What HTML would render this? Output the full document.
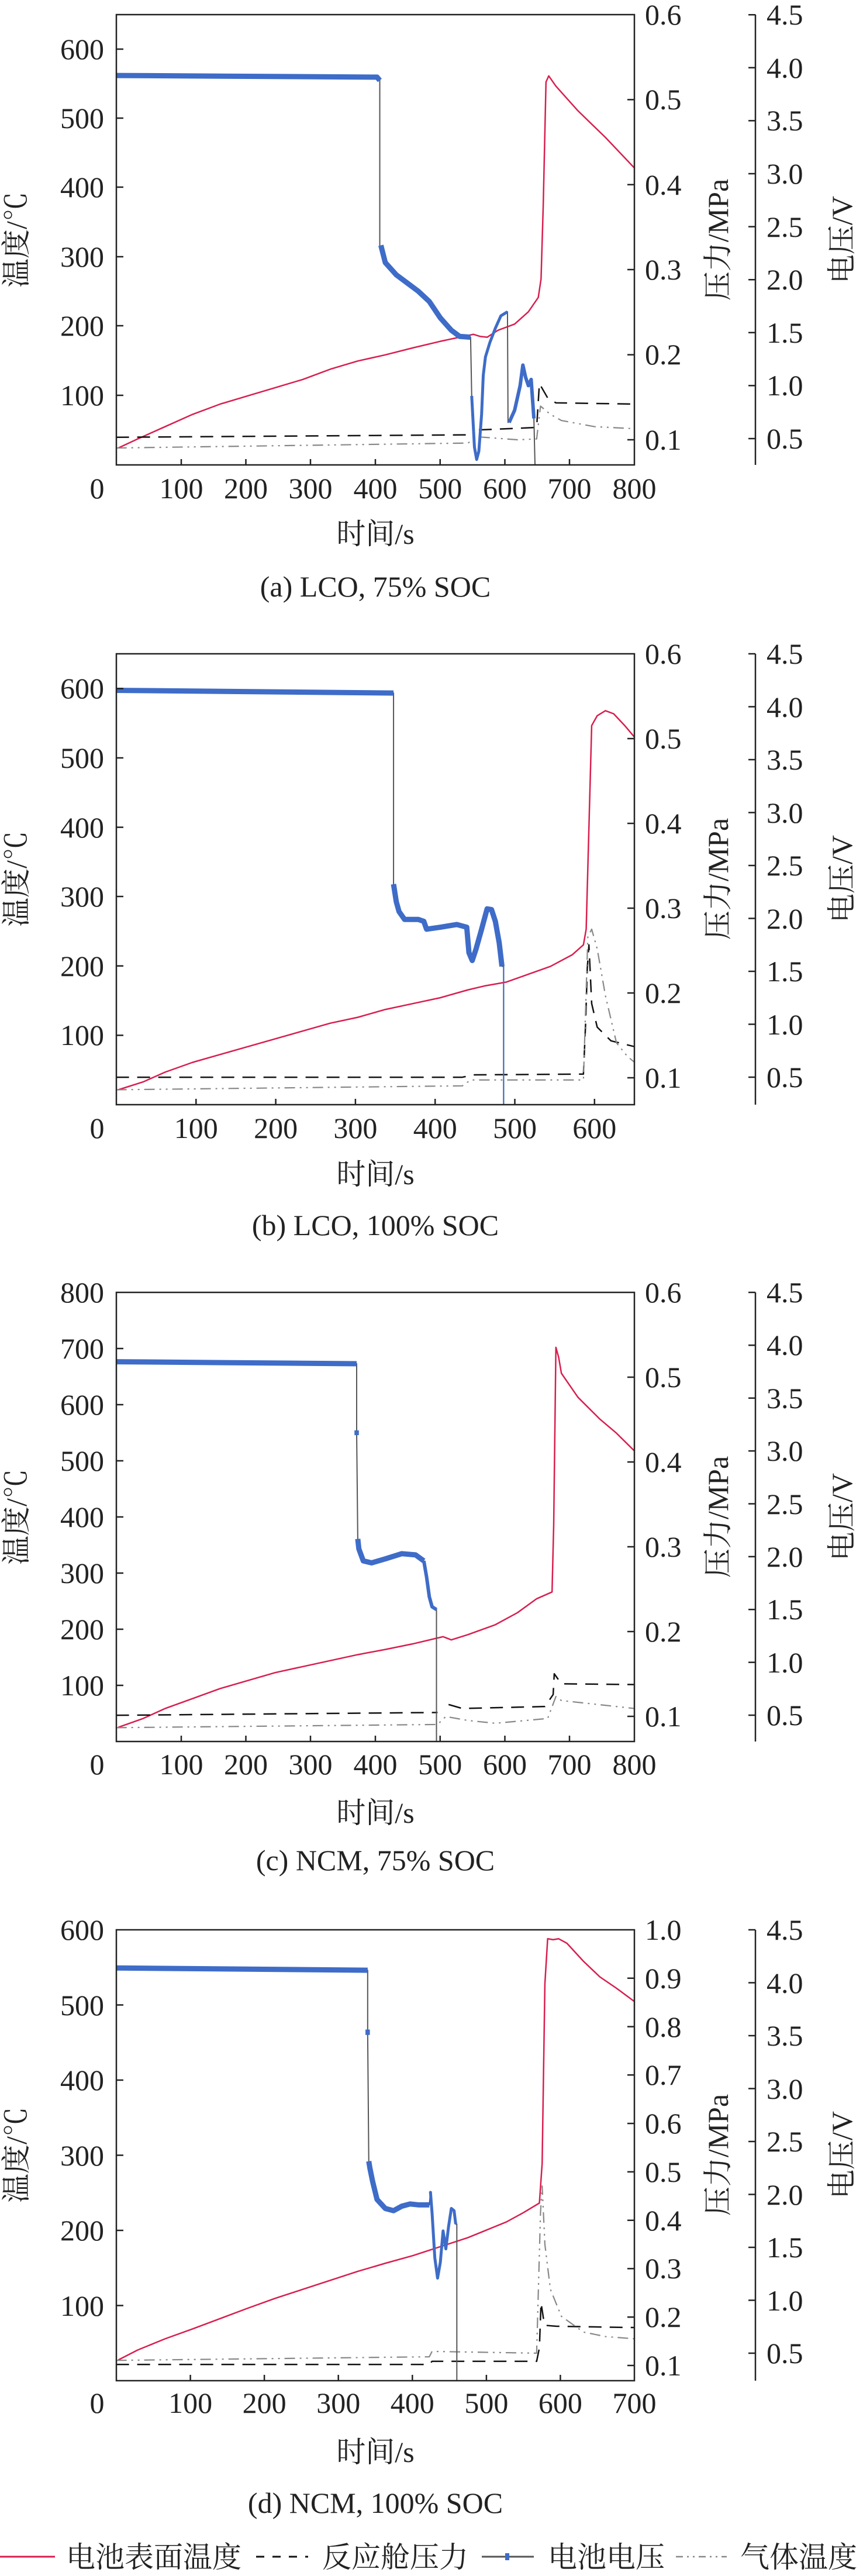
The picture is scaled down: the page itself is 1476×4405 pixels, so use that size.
<!DOCTYPE html>
<html><head><meta charset="utf-8"><style>
html,body{margin:0;padding:0;background:#fff;}
svg{display:block;}
text{font-family:"Liberation Serif","Noto Serif CJK SC","Noto Sans CJK SC",serif;fill:#222;font-size:50px;}
.d path{fill:none;vector-effect:non-scaling-stroke;stroke-linejoin:round;}
.T{stroke:#d81e4e;stroke-width:2.5;}
.P{stroke:#111;stroke-width:2.5;stroke-dasharray:22 14;}
.G{stroke:#888;stroke-width:2.2;stroke-dasharray:18 8 3 8 3 8;}
.Vt{stroke:#555;stroke-width:2;}
.Vb{stroke:#3e6cc8;stroke-width:9;}
.ax{stroke:#222;stroke-width:2.5;fill:none;}
.tk{stroke:#222;stroke-width:2.5;}
.l{text-anchor:end;} .c{text-anchor:middle;}
</style></head><body>
<svg width="1476" height="4405" viewBox="0 0 1476 4405" xmlns="http://www.w3.org/2000/svg">
<rect width="1476" height="4405" fill="#fff"/>

<!-- ===== Panel (a) ===== -->
<g class="d" transform="translate(0,0) scale(0.94136,0.70151)">
<path class="T" d="M215,1092 L250,1070 300,1040 350,1010 400,985 450,965 500,945 550,925 600,900 650,880 700,865 750,848 800,832 835,822 860,815 872,820 885,822 905,805 935,790 960,760 978,725 983,680 987,500 992,200 997,185 1010,210 1050,270 1100,335 1153,410"/>
<path class="P" d="M211,1066 L850,1060 M870,1048 L975,1042 980,935 995,970 1010,982 1153,985"/>
<path class="G" d="M211,1092 L850,1080 870,1065 900,1068 940,1072 975,1070 982,990 1000,1010 1020,1025 1080,1040 1153,1045"/>
<path class="Vt" d="M211,183 L685,188 690,195 690,598 700,640 720,670 740,690 760,710 780,735 800,775 820,805 835,820 855,822 857,965 860,1040 862,1090 866,1120 870,1100 875,1010 878,915 882,870 890,835 900,800 910,770 922,760 923,1030 935,1000 945,940 950,890 955,920 960,940 965,925 970,1020 972,1133"/>
<path class="Vb" d="M211,184 L685,188 690,196"/>
<path class="Vb" d="M692,598 L700,640 720,670 740,690 760,710 780,735 800,775 820,805 835,820 855,822"/>
<path class="Vb" style="stroke-width:5" d="M857,965 L860,1040 862,1090 866,1120 870,1100 875,1010 878,915 882,870 890,835 900,800 910,770 922,760"/>
<path class="Vb" style="stroke-width:6" d="M925,1030 L935,1000 945,940 950,890 955,920 960,940 965,925 970,1020"/>
</g>
<rect class="ax" x="199" y="25" width="886" height="770"/>
<path class="tk" d="M199,676h12M199,557h12M199,439h12M199,320h12M199,202h12M199,84h12
M1073,752h12M1073,606.6h12M1073,461h12M1073,315.8h12M1073,170.4h12
M1292,25V795M1280,750h12M1280,659.4h12M1280,568.8h12M1280,478.2h12M1280,387.6h12M1280,297h12M1280,206.4h12M1280,115.8h12M1280,25.2h12
M310,795v-10M420.5,795v-10M531,795v-10M642,795v-10M752.75,795v-10M863.5,795v-10M974,795v-10"/>
<g class="l"><text x="178" y="693">100</text><text x="178" y="574">200</text><text x="178" y="456">300</text><text x="178" y="337">400</text><text x="178" y="219">500</text><text x="178" y="101">600</text></g>
<g><text x="1103" y="769">0.1</text><text x="1103" y="623">0.2</text><text x="1103" y="478">0.3</text><text x="1103" y="333">0.4</text><text x="1103" y="187">0.5</text><text x="1103" y="42">0.6</text>
<text x="1311" y="767">0.5</text><text x="1311" y="676">1.0</text><text x="1311" y="586">1.5</text><text x="1311" y="495">2.0</text><text x="1311" y="405">2.5</text><text x="1311" y="314">3.0</text><text x="1311" y="223">3.5</text><text x="1311" y="133">4.0</text><text x="1311" y="42">4.5</text></g>
<g class="c"><text x="166" y="852">0</text><text x="310" y="852">100</text><text x="420.5" y="852">200</text><text x="531" y="852">300</text><text x="642" y="852">400</text><text x="752.75" y="852">500</text><text x="863.5" y="852">600</text><text x="974" y="852">700</text><text x="1085" y="852">800</text>
<text x="642" y="930">时间/s</text><text x="642" y="1020">(a) LCO, 75% SOC</text>
<text transform="translate(45,410) rotate(-90)">温度/℃</text>
<text transform="translate(1245,410) rotate(-90)">压力/MPa</text>
<text transform="translate(1457,410) rotate(-90)">电压/V</text></g>

<!-- ===== Panel (b) ===== -->
<g class="d" transform="translate(0,1080) scale(0.94136,0.66966)">
<path class="T" d="M215,1170 L260,1150 300,1125 350,1100 400,1080 450,1060 500,1040 550,1020 600,1000 650,985 700,965 750,950 800,935 850,915 880,905 920,895 960,875 1000,855 1040,825 1060,800 1065,760 1070,500 1075,240 1085,215 1100,202 1115,210 1135,240 1153,270"/>
<path class="P" d="M211,1138 L840,1138 860,1132 1060,1130 1064,1000 1067,860 1070,800 1075,950 1085,1010 1110,1045 1153,1060"/>
<path class="G" d="M211,1170 L840,1160 855,1145 1060,1145 1068,780 1075,760 1085,810 1100,930 1120,1050 1140,1085 1153,1100"/>
<path class="Vt" d="M211,150 L715,157 715,645 720,690 725,715 735,735 760,735 770,740 775,760 800,755 830,748 848,755 852,820 858,840 865,810 875,760 885,708 893,710 900,740 907,795 912,855 915,855 915,1208"/>
<path class="Vb" d="M211,150 L715,157"/>
<path class="Vb" d="M715,645 L720,690 725,715 735,735 760,735 770,740 775,760 800,755 830,748 848,755 852,820 858,840 865,810 875,760 885,708 893,710 900,740 907,795 912,855"/>
<path class="Vt" style="stroke:#3e6cc8" d="M915,855 L915,1208"/>
</g>
<rect class="ax" x="199" y="1118" width="886" height="771"/>
<path class="tk" d="M199,1770.4h12M199,1651.8h12M199,1533h12M199,1414.6h12M199,1296h12M199,1177.4h12
M1073,1843h12M1073,1698h12M1073,1553h12M1073,1408h12M1073,1263h12
M1292,1118V1889M1280,1842h12M1280,1751.5h12M1280,1661h12M1280,1570.5h12M1280,1480h12M1280,1389.5h12M1280,1299h12M1280,1208.5h12M1280,1118h12
M335.3,1889v-10M471.6,1889v-10M607.9,1889v-10M744.2,1889v-10M880.5,1889v-10M1016.8,1889v-10"/>
<g class="l"><text x="178" y="1787">100</text><text x="178" y="1669">200</text><text x="178" y="1550">300</text><text x="178" y="1432">400</text><text x="178" y="1313">500</text><text x="178" y="1194">600</text></g>
<g><text x="1103" y="1860">0.1</text><text x="1103" y="1715">0.2</text><text x="1103" y="1570">0.3</text><text x="1103" y="1425">0.4</text><text x="1103" y="1280">0.5</text><text x="1103" y="1135">0.6</text>
<text x="1311" y="1859">0.5</text><text x="1311" y="1769">1.0</text><text x="1311" y="1678">1.5</text><text x="1311" y="1588">2.0</text><text x="1311" y="1497">2.5</text><text x="1311" y="1407">3.0</text><text x="1311" y="1316">3.5</text><text x="1311" y="1226">4.0</text><text x="1311" y="1135">4.5</text></g>
<g class="c"><text x="166" y="1946">0</text><text x="335.3" y="1946">100</text><text x="471.6" y="1946">200</text><text x="607.9" y="1946">300</text><text x="744.2" y="1946">400</text><text x="880.5" y="1946">500</text><text x="1016.8" y="1946">600</text>
<text x="642" y="2025">时间/s</text><text x="642" y="2112">(b) LCO, 100% SOC</text>
<text transform="translate(45,1503) rotate(-90)">温度/℃</text>
<text transform="translate(1245,1503) rotate(-90)">压力/MPa</text>
<text transform="translate(1457,1503) rotate(-90)">电压/V</text></g>

<!-- ===== Panel (c) ===== -->
<g class="d" transform="translate(0,2130) scale(0.94136,0.68240)">
<path class="T" d="M215,1207 L260,1185 300,1160 350,1135 400,1110 450,1090 500,1070 550,1055 600,1040 650,1025 700,1012 750,998 805,980 820,988 850,975 900,950 940,920 975,885 1003,868 1006,700 1010,255 1015,280 1020,320 1050,380 1090,435 1120,470 1153,515"/>
<path class="P" d="M211,1177 L795,1170 M815,1150 L840,1160 990,1155 1005,1125 1007,1073 1020,1098 1153,1100"/>
<path class="G" d="M211,1208 L795,1200 810,1180 850,1190 900,1197 995,1185 1010,1130 1020,1140 1153,1160"/>
<path class="Vt" d="M211,291 L648,296 648,470 650,735 652,760 660,790 675,795 700,785 730,772 755,775 770,790 775,830 780,880 785,905 793,912 793,1243"/>
<path class="Vb" d="M211,291 L648,296"/>
<path class="Vb" d="M650,735 L652,760 660,790 675,795 700,785 730,772 755,775 770,790"/>
<path class="Vb" style="stroke-width:6" d="M770,790 L775,830 780,880 785,905 793,912"/>
<rect x="644" y="463" width="8" height="12" fill="#3e6cc8"/>
</g>
<rect class="ax" x="199" y="2210" width="886" height="768"/>
<path class="tk" d="M199,2882h12M199,2786h12M199,2690h12M199,2594h12M199,2498h12M199,2402h12M199,2306h12
M1073,2935h12M1073,2790h12M1073,2645h12M1073,2500h12M1073,2355h12
M1292,2210V2978M1280,2933h12M1280,2842.6h12M1280,2752.3h12M1280,2661.9h12M1280,2571.5h12M1280,2481.1h12M1280,2390.8h12M1280,2300.4h12M1280,2210h12
M310,2978v-10M420.5,2978v-10M531,2978v-10M642,2978v-10M752.75,2978v-10M863.5,2978v-10M974,2978v-10"/>
<g class="l"><text x="178" y="2899">100</text><text x="178" y="2803">200</text><text x="178" y="2707">300</text><text x="178" y="2611">400</text><text x="178" y="2515">500</text><text x="178" y="2419">600</text><text x="178" y="2323">700</text><text x="178" y="2227">800</text></g>
<g><text x="1103" y="2952">0.1</text><text x="1103" y="2807">0.2</text><text x="1103" y="2662">0.3</text><text x="1103" y="2517">0.4</text><text x="1103" y="2372">0.5</text><text x="1103" y="2227">0.6</text>
<text x="1311" y="2950">0.5</text><text x="1311" y="2860">1.0</text><text x="1311" y="2769">1.5</text><text x="1311" y="2679">2.0</text><text x="1311" y="2589">2.5</text><text x="1311" y="2498">3.0</text><text x="1311" y="2408">3.5</text><text x="1311" y="2317">4.0</text><text x="1311" y="2227">4.5</text></g>
<g class="c"><text x="166" y="3034">0</text><text x="310" y="3034">100</text><text x="420.5" y="3034">200</text><text x="531" y="3034">300</text><text x="642" y="3034">400</text><text x="752.75" y="3034">500</text><text x="863.5" y="3034">600</text><text x="974" y="3034">700</text><text x="1085" y="3034">800</text>
<text x="642" y="3117">时间/s</text><text x="642" y="3198">(c) NCM, 75% SOC</text>
<text transform="translate(45,2594) rotate(-90)">温度/℃</text>
<text transform="translate(1245,2594) rotate(-90)">压力/MPa</text>
<text transform="translate(1457,2594) rotate(-90)">电压/V</text></g>

<!-- ===== Panel (d) ===== -->
<g class="d" transform="translate(0,3200) scale(0.94136,0.76864)">
<path class="T" d="M215,1087 L250,1065 300,1040 350,1018 400,995 450,972 500,950 550,930 600,910 650,890 700,872 750,855 800,835 850,815 880,800 920,780 950,760 980,738 985,650 990,250 995,150 1005,152 1015,150 1030,160 1060,200 1090,235 1120,260 1153,290"/>
<path class="P" d="M211,1097 L780,1097 785,1090 975,1090 980,1060 983,960 988,1000 990,1010 1010,1012 1153,1015"/>
<path class="G" d="M211,1088 L780,1080 785,1068 975,1072 982,760 985,700 990,830 1000,930 1020,990 1060,1025 1100,1035 1153,1040"/>
<path class="Vt" d="M211,215 L668,220 668,358 670,645 672,660 677,690 685,730 700,750 715,755 730,745 745,740 760,742 780,742 782,712 785,760 790,860 795,905 800,870 805,800 810,840 815,790 820,750 825,755 828,785 830,785 830,1133"/>
<path class="Vb" d="M211,215 L668,220"/>
<path class="Vb" d="M670,645 L672,660 677,690 685,730 700,750 715,755 730,745 745,740 760,742 780,742"/>
<path class="Vb" style="stroke-width:5" d="M782,712 L785,760 790,860 795,905 800,870 805,800 810,840 815,790 820,750 825,755 828,785"/>
<rect x="664" y="352" width="8" height="12" fill="#3e6cc8"/>
</g>
<rect class="ax" x="199" y="3300" width="886" height="771"/>
<path class="tk" d="M199,3942.5h12M199,3814h12M199,3685.5h12M199,3557h12M199,3428.5h12
M1073,4045h12M1073,3962.2h12M1073,3879.4h12M1073,3796.7h12M1073,3713.9h12M1073,3631.1h12M1073,3548.3h12M1073,3465.6h12M1073,3382.8h12
M1292,3300V4071M1280,4024h12M1280,3933.5h12M1280,3843h12M1280,3752.5h12M1280,3662h12M1280,3571.5h12M1280,3481h12M1280,3390.5h12M1280,3300h12
M325.6,4071v-10M452.1,4071v-10M578.7,4071v-10M705.3,4071v-10M831.9,4071v-10M958.4,4071v-10"/>
<g class="l"><text x="178" y="3960">100</text><text x="178" y="3831">200</text><text x="178" y="3703">300</text><text x="178" y="3574">400</text><text x="178" y="3446">500</text><text x="178" y="3317">600</text></g>
<g><text x="1103" y="4062">0.1</text><text x="1103" y="3979">0.2</text><text x="1103" y="3896">0.3</text><text x="1103" y="3814">0.4</text><text x="1103" y="3731">0.5</text><text x="1103" y="3648">0.6</text><text x="1103" y="3565">0.7</text><text x="1103" y="3483">0.8</text><text x="1103" y="3400">0.9</text><text x="1103" y="3317">1.0</text>
<text x="1311" y="4041">0.5</text><text x="1311" y="3951">1.0</text><text x="1311" y="3860">1.5</text><text x="1311" y="3770">2.0</text><text x="1311" y="3679">2.5</text><text x="1311" y="3589">3.0</text><text x="1311" y="3498">3.5</text><text x="1311" y="3408">4.0</text><text x="1311" y="3317">4.5</text></g>
<g class="c"><text x="166" y="4126">0</text><text x="325.6" y="4126">100</text><text x="452.1" y="4126">200</text><text x="578.7" y="4126">300</text><text x="705.3" y="4126">400</text><text x="831.9" y="4126">500</text><text x="958.4" y="4126">600</text><text x="1085" y="4126">700</text>
<text x="642" y="4210">时间/s</text><text x="642" y="4297">(d) NCM, 100% SOC</text>
<text transform="translate(45,3685) rotate(-90)">温度/℃</text>
<text transform="translate(1245,3685) rotate(-90)">压力/MPa</text>
<text transform="translate(1457,3685) rotate(-90)">电压/V</text></g>

<!-- ===== Legend ===== -->
<path d="M0,4372H94" stroke="#d81e4e" stroke-width="3"/>
<text x="113" y="4390">电池表面温度</text>
<path d="M438,4372H527" stroke="#111" stroke-width="3" stroke-dasharray="14 14"/>
<text x="551" y="4390">反应舱压力</text>
<path d="M824,4372H913" stroke="#555" stroke-width="3"/>
<rect x="864" y="4366" width="7" height="12" fill="#3e6cc8"/>
<text x="937" y="4390">电池电压</text>
<path d="M1156,4372H1243" stroke="#888" stroke-width="2.5" stroke-dasharray="12 7 3 7 3 7"/>
<text x="1266" y="4390">气体温度</text>
</svg>
</body></html>
